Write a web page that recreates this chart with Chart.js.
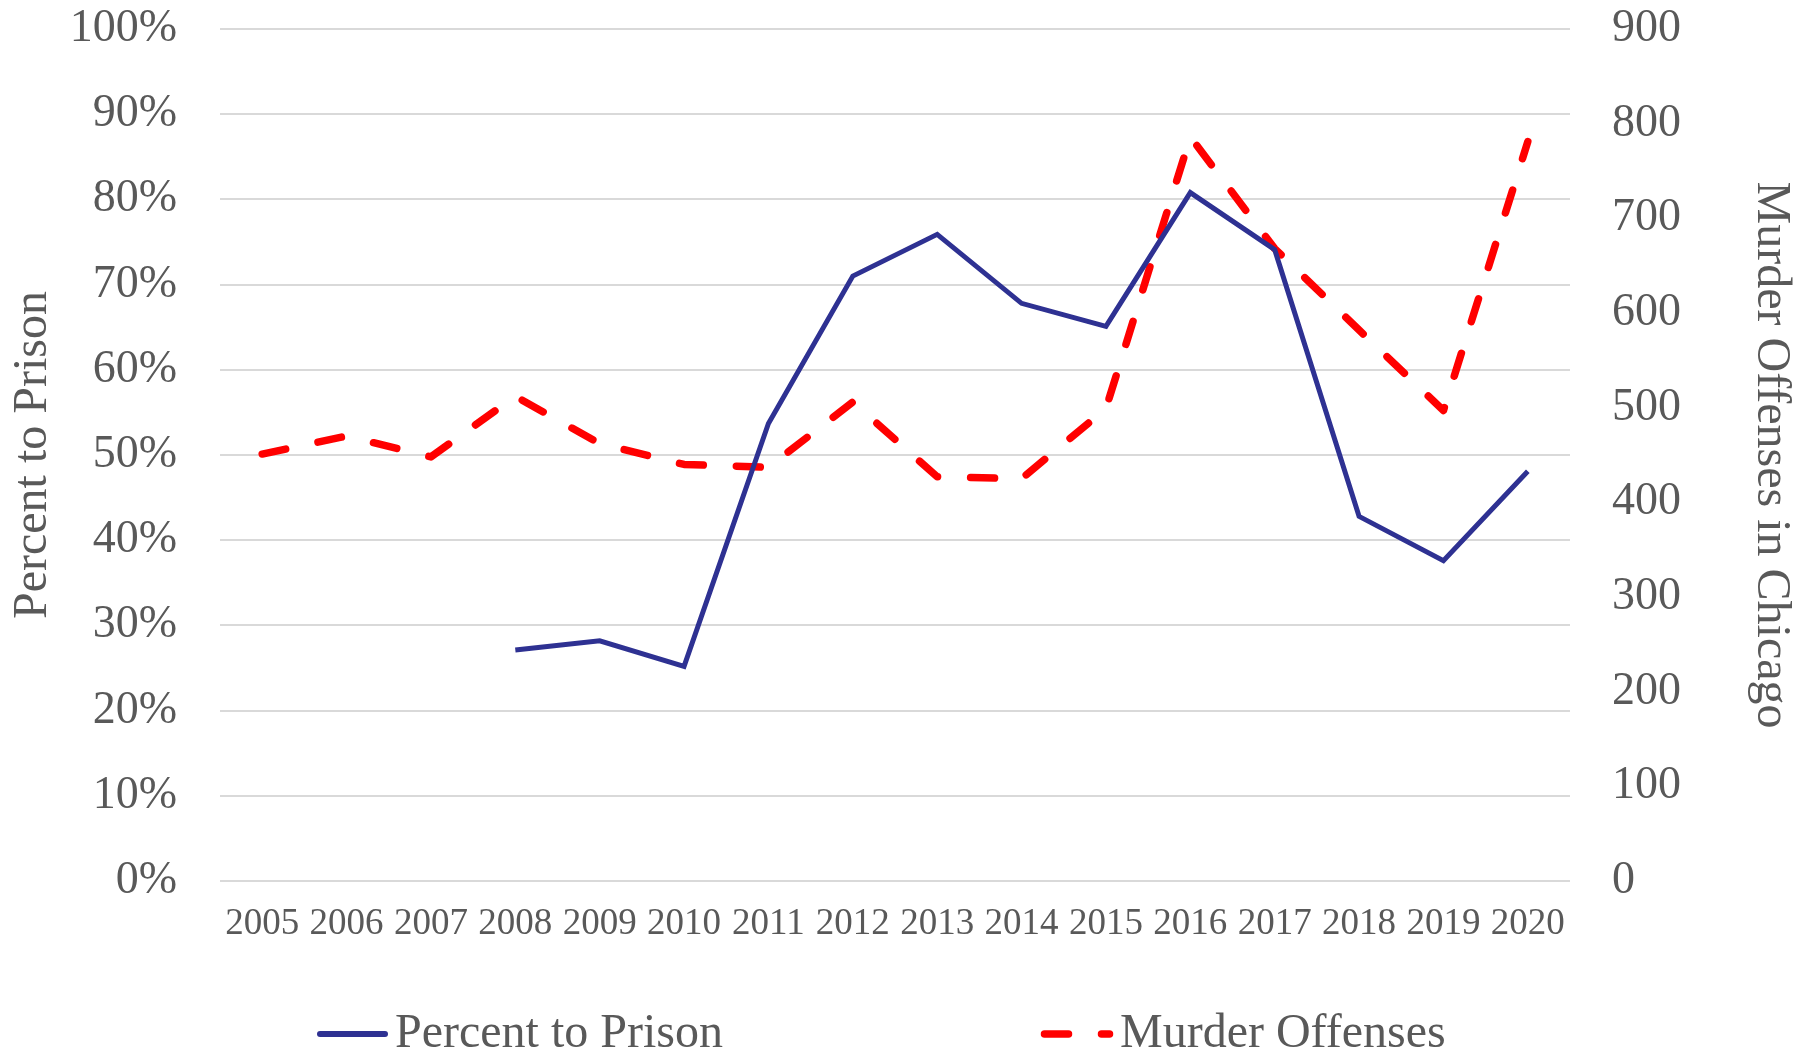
<!DOCTYPE html>
<html>
<head>
<meta charset="utf-8">
<title>Percent to Prison vs Murder Offenses</title>
<script src="https://cdn.jsdelivr.net/npm/chart.js@4.4.1/dist/chart.umd.min.js"></script>
<style>
  html, body { margin: 0; padding: 0; background: #ffffff; }
  #wrap { position: relative; width: 1808px; height: 1055px; }
</style>
</head>
<body>
<div id="wrap"><canvas id="chart"></canvas></div>
<script>
// datos
const years = ["2005", "2006", "2007", "2008", "2009", "2010", "2011", "2012",
               "2013", "2014", "2015", "2016", "2017", "2018", "2019", "2020"];
const percentToPrison = [null, null, null, 27.1, 28.2, 25.2, 53.7, 71.0,
                         75.9, 67.8, 65.1, 80.8, 74.1, 42.8, 37.6, 48.1];
const murderOffenses = [451, 470, 448, 512, 462, 440, 437, 506,
                        427, 425, 499, 786, 668, 582, 497, 781];
const percentTicks = [0, 10, 20, 30, 40, 50, 60, 70, 80, 90, 100];
const murderTicks = [0, 100, 200, 300, 400, 500, 600, 700, 800, 900];

const FONT = "'Liberation Serif', 'Times New Roman', serif";
const GREY = '#595959';

// leyenda propia (Excel deja mucho espacio entre las dos entradas)
const bottomLegend = {
    id: 'bottomLegend',
    afterDraw(chart) {
        const ctx = chart.ctx;
        const y = 1034;
        const items = [
            { ds: chart.data.datasets[0], x1: 320, x2: 385, tx: 395, w: 6 },
            { ds: chart.data.datasets[1], x1: 1044.5, x2: 1109.5, tx: 1120, w: 7.5 }
        ];
        ctx.save();
        items.forEach(it => {
            ctx.beginPath();
            ctx.strokeStyle = it.ds.borderColor;
            ctx.lineWidth = it.w;
            ctx.lineCap = 'round';
            ctx.setLineDash(it.ds.borderDash || []);
            ctx.moveTo(it.x1, y);
            ctx.lineTo(it.x2, y);
            ctx.stroke();
            ctx.setLineDash([]);
            ctx.fillStyle = GREY;
            ctx.font = '48px ' + FONT;
            ctx.textAlign = 'left';
            ctx.textBaseline = 'middle';
            ctx.fillText(it.ds.label, it.tx, y);
        });
        ctx.restore();
    }
};

// ticks.padding se suma al padding superior del area, por eso
// la separacion de las etiquetas va con tickLength invisible
const ctx = document.getElementById('chart').getContext('2d');
new Chart(ctx, {
    type: 'line',
    data: {
        labels: years,
        datasets: [
            {
                label: 'Percent to Prison',
                data: percentToPrison,
                yAxisID: 'y',
                borderColor: '#2E3192',
                backgroundColor: '#2E3192',
                borderWidth: 5,
                borderJoinStyle: 'miter',
                pointRadius: 0,
                pointHoverRadius: 0,
                tension: 0,
                spanGaps: false
            },
            {
                label: 'Murder Offenses',
                data: murderOffenses,
                yAxisID: 'y1',
                borderColor: '#FF0000',
                backgroundColor: '#FF0000',
                borderWidth: 7.5,
                borderDash: [24, 33],
                borderCapStyle: 'round',
                borderJoinStyle: 'round',
                pointRadius: 0,
                pointHoverRadius: 0,
                tension: 0
            }
        ]
    },
    options: {
        responsive: true,
        maintainAspectRatio: false,
        animation: false,
        events: [],
        layout: { padding: { top: 29, bottom: 100, left: 0, right: 0 } },
        plugins: {
            legend: { display: false },
            tooltip: { enabled: false },
            title: { display: false }
        },
        scales: {
            x: {
                offset: true,
                grid: { display: false, drawTicks: false },
                border: { display: false },
                ticks: {
                    color: GREY,
                    font: { family: FONT, size: 37 },
                    padding: 21,
                    autoSkip: false,
                    maxRotation: 0,
                    minRotation: 0
                },
                afterFit(scale) { scale.height = 74; }
            },
            y: {
                position: 'left',
                min: 0,
                max: 100,
                afterBuildTicks(scale) { scale.ticks = percentTicks.map(v => ({ value: v })); },
                grid: {
                    color: '#D9D9D9',
                    lineWidth: 2,
                    drawTicks: true,
                    tickLength: 43,
                    tickColor: 'rgba(0,0,0,0)'
                },
                border: { display: false },
                ticks: {
                    color: GREY,
                    font: { family: FONT, size: 46 },
                    padding: 0,
                    callback: v => v + '%'
                },
                title: {
                    display: true,
                    text: 'Percent to Prison',
                    color: GREY,
                    font: { family: FONT, size: 48 },
                    padding: { top: 5, bottom: 0 }
                },
                afterFit(scale) { scale.width = 220; }
            },
            y1: {
                position: 'right',
                min: 0,
                max: 900,
                afterBuildTicks(scale) { scale.ticks = murderTicks.map(v => ({ value: v })); },
                grid: {
                    drawOnChartArea: false,
                    drawTicks: true,
                    tickLength: 42,
                    tickColor: 'rgba(0,0,0,0)'
                },
                border: { display: false },
                ticks: {
                    color: GREY,
                    font: { family: FONT, size: 46 },
                    padding: 0
                },
                title: {
                    display: true,
                    text: 'Murder Offenses in Chicago',
                    color: GREY,
                    font: { family: FONT, size: 48 },
                    padding: { top: 9, bottom: 0 }
                },
                afterFit(scale) { scale.width = 238; }
            }
        }
    },
    plugins: [bottomLegend]
});
</script>
</body>
</html>
